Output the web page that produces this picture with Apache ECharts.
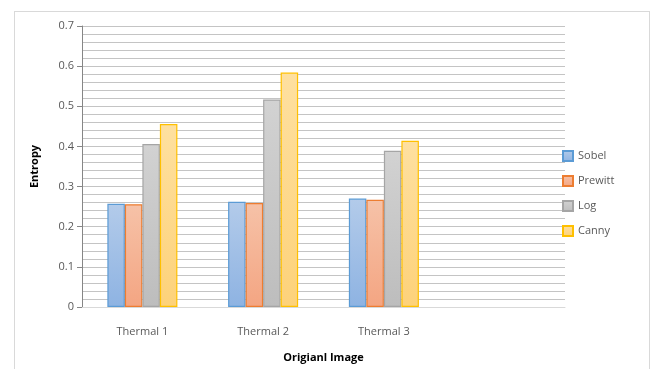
<!DOCTYPE html>
<html><head><meta charset="utf-8">
<script src="https://cdn.jsdelivr.net/npm/echarts@6/dist/echarts.min.js"></script>
<style>
html,body{margin:0;padding:0;background:#fff;}
#c{position:absolute;left:0;top:0;width:658px;height:369px;}
#frame{position:absolute;left:14px;top:11px;width:636px;height:370px;border:1px solid #d9d9d9;box-sizing:border-box;pointer-events:none;}
</style></head>
<body>
<div id="c"></div><div id="frame"></div>
<script>
const categories = ['Thermal 1', 'Thermal 2', 'Thermal 3', ''];
const sobel   = [0.257, 0.262, 0.270, null];
const prewitt = [0.256, 0.259, 0.267, null];
const logv    = [0.406, 0.517, 0.389, null];
const canny   = [0.456, 0.584, 0.414, null];
const seriesNames = ['Sobel', 'Prewitt', 'Log', 'Canny'];
const yTicks = {min: 0, max: 0.7, interval: 0.1};

const fills = [
  ['#b3cbea', '#8eb3e2', '#5b9bd5'],
  ['#f6c2a8', '#f4a582', '#ed7d31'],
  ['#d2d2d2', '#bdbdbd', '#a5a5a5'],
  ['#fee0a0', '#fdd27a', '#ffc000']
];
function grad(c){
  return new echarts.graphic.LinearGradient(0,0,0,1,[{offset:0,color:c[0]},{offset:1,color:c[1]}]);
}
const datasets = [sobel, prewitt, logv, canny];
const chart = echarts.init(document.getElementById('c'));
chart.setOption({
  animation: false,
  textStyle: {fontFamily: 'Open Sans'},
  grid: {left: 82, right: 93, top: 26, bottom: 62},
  legend: {
    orient: 'vertical', left: 557, top: 145, itemWidth: 10, itemHeight: 10, itemGap: 13,
    icon: 'rect',
    textStyle: {color: '#595959', fontSize: 11, fontFamily: 'Open Sans'},
    data: seriesNames
  },
  xAxis: {
    type: 'category', data: categories,
    name: 'Origianl Image', nameLocation: 'middle', nameGap: 45,
    nameTextStyle: {fontWeight: 'bold', fontSize: 11, color: '#000'},
    axisLine: {lineStyle: {color: '#d9d9d9'}},
    axisTick: {show: false},
    axisLabel: {color: '#595959', fontSize: 11, margin: 19}
  },
  yAxis: {
    type: 'value', min: yTicks.min, max: yTicks.max, interval: yTicks.interval,
    name: 'Entropy', nameLocation: 'middle', nameGap: 42, nameRotate: 90,
    nameTextStyle: {fontWeight: 'bold', fontSize: 11, color: '#000'},
    axisLine: {show: true, lineStyle: {color: '#868686'}},
    axisTick: {show: true, length: 5, lineStyle: {color: '#868686'}},
    axisLabel: {color: '#595959', fontSize: 11, margin: 8},
    splitLine: {show: true, lineStyle: {color: '#c4c4c4'}},
    minorTick: {show: false, splitNumber: 5},
    minorSplitLine: {show: true, lineStyle: {color: '#c4c4c4'}}
  },
  series: datasets.map((d, i) => ({
    name: seriesNames[i], type: 'bar', data: d,
    barGap: '0%', barCategoryGap: '42%',
    itemStyle: {color: grad(fills[i]), borderColor: fills[i][2], borderWidth: 1.2}
  }))
});
</script>
</body></html>
